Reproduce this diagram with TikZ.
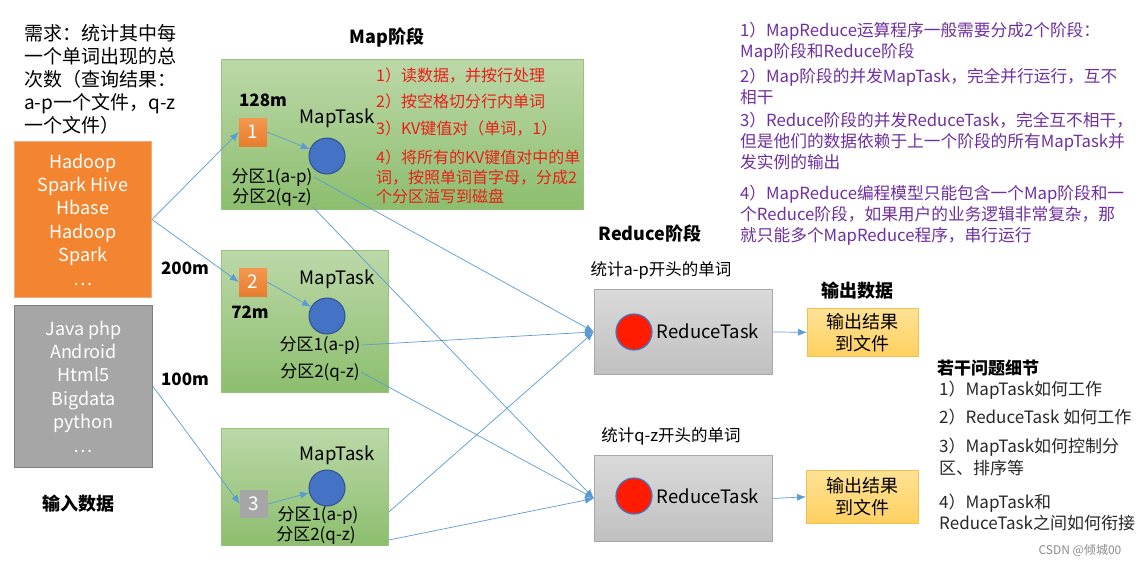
\documentclass[tikz,border=0pt]{standalone}
\usepackage{fontspec}
\setmainfont{Noto Sans CJK SC}
\usetikzlibrary{arrows.meta,calc}
\definecolor{linkblue}{RGB}{91,155,213}
\definecolor{greentop}{RGB}{188,216,168}
\definecolor{greenbot}{RGB}{140,190,110}
\definecolor{greenline}{RGB}{150,195,125}
\definecolor{inorange}{RGB}{243,132,48}
\definecolor{inorangeline}{RGB}{235,170,130}
\definecolor{ingray}{RGB}{166,166,166}
\definecolor{ingrayline}{RGB}{125,125,125}
\definecolor{taskblue}{RGB}{68,114,196}
\definecolor{taskblueline}{RGB}{47,82,143}
\definecolor{redtop}{RGB}{218,218,218}
\definecolor{redbot}{RGB}{192,192,192}
\definecolor{redline}{RGB}{168,168,168}
\definecolor{taskred}{RGB}{255,28,0}
\definecolor{yeltop}{RGB}{255,226,150}
\definecolor{yelbot}{RGB}{255,208,95}
\definecolor{yelline}{RGB}{242,192,80}
\definecolor{notered}{RGB}{235,30,25}
\definecolor{notepurple}{RGB}{112,48,160}
\definecolor{notegray}{RGB}{40,40,40}
\begin{document}
\begin{tikzpicture}[x=1pt,y=-1pt,
  txt/.style={inner sep=1pt, text=black},
  f19/.style={font=\fontsize{19}{23}\selectfont},
  f18/.style={font=\fontsize{18}{22}\selectfont},
  f17/.style={font=\fontsize{17}{21}\selectfont},
  f185/.style={font=\fontsize{18.5}{22}\selectfont},
  b18/.style={font=\fontsize{18}{22}\selectfont\bfseries},
  b17/.style={font=\fontsize{17}{21}\selectfont\bfseries},
  mapbox/.style={draw=greenline, line width=0.8pt, top color=greentop, bottom color=greenbot, anchor=north west, inner sep=0pt},
  inbox/.style={line width=1pt, anchor=north west, align=center, text=white, inner sep=0pt, font=\fontsize{18}{23.4}\selectfont},
  splitbox/.style={minimum width=28pt, minimum height=28pt, inner sep=0pt, text=white, font=\fontsize{19}{22}\selectfont},
  taskcirc/.style={circle, fill=taskblue, draw=taskblueline, line width=1pt, minimum size=36pt, inner sep=0pt},
  redcirc/.style={circle, fill=taskred, draw=taskblue, line width=1.2pt, minimum size=36pt, inner sep=0pt},
  redbox/.style={draw=redline, line width=0.8pt, top color=redtop, bottom color=redbot, anchor=north west, inner sep=0pt},
  outbox/.style={draw=yelline, line width=0.8pt, top color=yeltop, bottom color=yelbot, anchor=north west, inner sep=0pt, align=center, font=\fontsize{18}{22}\selectfont},
  link/.style={draw=linkblue, line width=0.7pt, -{Latex[length=9pt,width=7pt]}}
]
\useasboundingbox (0,0) rectangle (1144,566);
\fill[white] (0,0) rectangle (1144,566);

% requirement text
\node[txt, f19, anchor=north west, align=left] (req) at (23,23)
  {需求：统计其中每\\一个单词出现的总\\次数（查询结果：\\a-p一个文件，q-z\\一个文件）};

% input data
\node[inbox, fill=inorange, draw=inorangeline, minimum width=137pt, minimum height=156pt] (in1) at (14,141)
  {Hadoop\\Spark Hive\\Hbase\\Hadoop\\Spark\\…};
\node[inbox, fill=ingray, draw=ingrayline, minimum width=138pt, minimum height=162pt] (in2) at (14,305)
  {Java php\\Android\\Html5\\Bigdata\\python\\…};
\node[txt, b18] (inlabel) at (78,504) {输入数据};
\node[txt, b17] (s200) at (185,268) {200m};
\node[txt, b17] (s100) at (185,379) {100m};

% map stage
\node[txt, b18] (maplabel) at (387,38) {Map阶段};

\node[mapbox, minimum width=362pt, minimum height=150pt] (m1) at (221,59) {};
\node[mapbox, minimum width=167pt, minimum height=142pt] (m2) at (221,250) {};
\node[mapbox, minimum width=167pt, minimum height=117pt] (m3) at (221,428) {};

% map task 1
\node[txt, b17] (s128) at (263,100) {128m};
\node[splitbox, top color=inorange!85!white, bottom color=inorange!95!black, draw=none] (b1) at (253,132) {1};
\node[txt, f185] (mt1) at (337,118) {MapTask};
\node[taskcirc] (c1) at (327,156) {};
\node[txt, f17] (p11) at (272,177) {分区1(a-p)};
\node[txt, f17] (p12) at (272,197) {分区2(q-z)};
\node[txt, anchor=north west, align=left, text=notered, font=\fontsize{16}{19.5}\selectfont] (steps) at (375,67)
  {1）读数据，并按行处理\\[6.5pt]2）按空格切分行内单词\\[7.5pt]3）KV键值对（单词，1）\\[9.5pt]4）将所有的KV键值对中的单\\词，按照单词首字母，分成2\\个分区溢写到磁盘};

% map task 2
\node[splitbox, top color=inorange!85!white, bottom color=inorange!95!black, draw=none] (b2) at (253,282) {2};
\node[txt, b17] (s72) at (250,312) {72m};
\node[txt, f185] (mt2) at (337,279) {MapTask};
\node[taskcirc] (c2) at (327,316) {};
\node[txt, f17] (p21) at (320,345) {分区1(a-p)};
\node[txt, f17] (p22) at (320,372) {分区2(q-z)};

% map task 3
\node[splitbox, fill=ingray, draw=none] (b3) at (254,504) {3};
\node[txt, f185] (mt3) at (337,455) {MapTask};
\node[taskcirc] (c3) at (327,488) {};
\node[txt, f17] (p31) at (318,515) {分区1(a-p)};
\node[txt, f17] (p32) at (316,535) {分区2(q-z)};

% reduce stage
\node[txt, b18] (redlabel) at (650,234) {Reduce阶段};
\node[txt, font=\fontsize{16.5}{20}\selectfont] (la1) at (661,270) {统计a-p开头的单词};
\node[redbox, minimum width=178pt, minimum height=85pt] (r1) at (594,289) {};
\node[redcirc] (rc1) at (634,332) {};
\node[txt, f185] (rt1) at (708,331) {ReduceTask};
\node[txt, font=\fontsize{16.5}{20}\selectfont] (la2) at (671,436) {统计q-z开头的单词};
\node[redbox, minimum width=178pt, minimum height=86pt] (r2) at (594,455) {};
\node[redcirc] (rc2) at (634,496) {};
\node[txt, f185] (rt2) at (708,496) {ReduceTask};

% output
\node[txt, b18] (outlabel) at (857,291) {输出数据};
\node[outbox, minimum width=111pt, minimum height=48pt] (y1) at (807,308) {输出结果\\到文件};
\node[outbox, minimum width=112pt, minimum height=53pt] (y2) at (806,470) {输出结果\\到文件};

% notes
\node[txt, anchor=north west, align=left, text=notepurple, font=\fontsize{16.7}{21}\selectfont] (notes) at (739,21)
  {1）MapReduce运算程序一般需要分成2个阶段：\\Map阶段和Reduce阶段\\[4pt]2）Map阶段的并发MapTask，完全并行运行，互不\\相干\\[2pt]3）Reduce阶段的并发ReduceTask，完全互不相干，\\但是他们的数据依赖于上一个阶段的所有MapTask并\\发实例的输出\\[10pt]4）MapReduce编程模型只能包含一个Map阶段和一\\个Reduce阶段，如果用户的业务逻辑非常复杂，那\\就只能多个MapReduce程序，串行运行};

\node[txt, b17] (qhead) at (988,368) {若干问题细节};
\node[txt, anchor=north west, align=left, text=notegray, font=\fontsize{17}{21.5}\selectfont] (qs) at (938,380)
  {1）MapTask如何工作\\[6.5pt]2）ReduceTask 如何工作\\[7.5pt]3）MapTask如何控制分\\区、排序等\\[12.5pt]4）MapTask和\\ReduceTask之间如何衔接};

\node[txt, text=black!45, font=\fontsize{12}{14}\selectfont] (wm) at (1080,550) {CSDN @倾城00};

% connectors
\draw[link] (in1.east) -- (b1.west);
\draw[link] (in1.east) -- (b2.west);
\draw[link] (in2.east) -- (b3.west);
\draw[link] (b1.east) -- (c1);
\draw[link] (b2.east) -- (c2);
\draw[link] (b3.east) -- (c3);
\draw[link] (p11.east) -- (r1.west);
\draw[link] (p12.south east) -- (r2.west);
\draw[link] (p21.east) -- (r1.west);
\draw[link] (p22.east) -- (r2.west);
\draw[link] ($(p31.east -| m3.east)+(0,-3)$) -- (r1.west);
\draw[link] ($(p32.east -| m3.east)+(0,5)$) -- (r2.west);
\draw[link] (r1.east) -- (y1.west);
\draw[link] (r2.east) -- (y2.west);
\end{tikzpicture}
\end{document}
